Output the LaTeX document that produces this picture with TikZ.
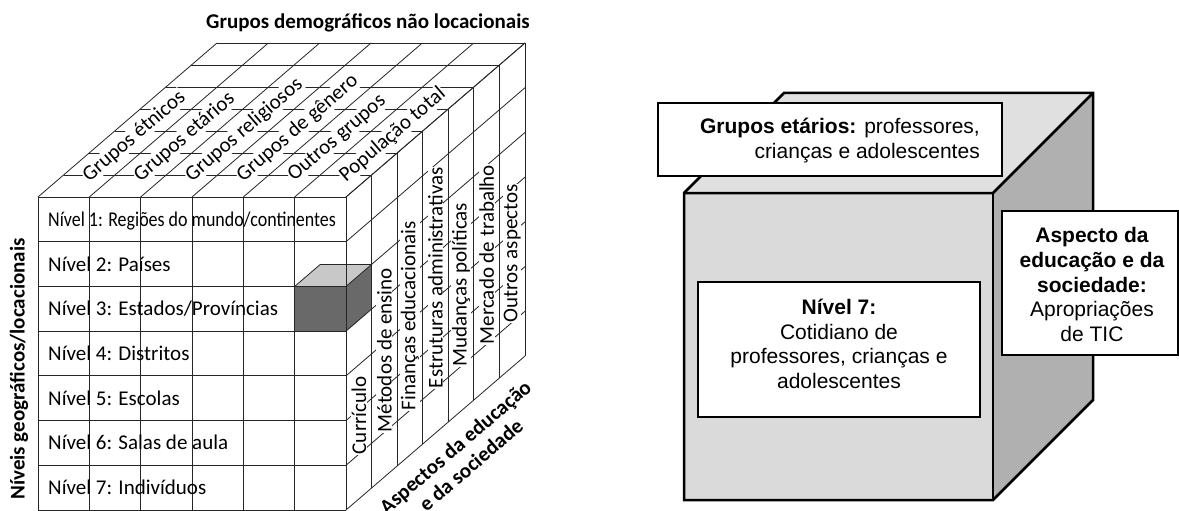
\documentclass[tikz,border=0pt]{standalone}
\usepackage{fontspec}
\usepackage{graphicx}
\setmainfont{Carlito}
\newfontfamily\arialf{Liberation Sans}
\definecolor{darkcell}{HTML}{696969}
\definecolor{lightcell}{HTML}{C8C8C8}
\definecolor{facefront}{HTML}{DADADA}
\definecolor{facetop}{HTML}{E0E0E0}
\definecolor{faceside}{HTML}{B0B0B0}
\def\W{51.333}
\def\H{44.714}
\def\DX{25.571}
\def\DY{22}
\begin{document}
\begin{tikzpicture}[x=1pt,y=-1pt,
  gline/.style={line width=0.8pt, draw=black!85},
  lbl/.style={font=\fontsize{21}{24}\selectfont, inner sep=0pt},
  blbl/.style={font=\fontsize{21}{24}\selectfont\bfseries, inner sep=0pt},
  facelbl/.style={lbl, fill=white, inner sep=0.6pt},
  cubeline/.style={line width=2.5pt, draw=black, line join=miter},
  abox/.style={line width=2.3pt, draw=black, fill=white, inner sep=0pt, outer sep=0pt, anchor=north west},
  atext/.style={font=\arialf\fontsize{21}{24.7}\selectfont, inner sep=0pt}
]
\useasboundingbox (0,0) rectangle (1179,511);
\fill[white] (0,0) rectangle (1179,511);

% ---------- left cube: highlighted cell ----------
\fill[darkcell] (294.67,286.43) rectangle (346,331.14);
\fill[darkcell] (346,286.43) -- (371.57,264.43) -- (371.57,309.14) -- (346,331.14) -- cycle;
\fill[lightcell] (294.67,286.43) -- (346,286.43) -- (371.57,264.43) -- (320.24,264.43) -- cycle;

% ---------- left cube: grid ----------
% front face
\foreach \i in {0,...,6} \draw[gline] ({38+\i*\W},197) -- ({38+\i*\W},510);
\foreach \j in {0,...,7} \draw[gline] (38,{197+\j*\H}) -- (346,{197+\j*\H});
% top face
\foreach \i in {0,...,6} \draw[gline] ({38+\i*\W},197) -- ({38+\i*\W+7*\DX},{197-7*\DY});
\foreach \t in {0,...,7} \draw[gline] ({38+\t*\DX},{197-\t*\DY}) -- ({346+\t*\DX},{197-\t*\DY});
% right face
\foreach \t in {0,...,7} \draw[gline] ({346+\t*\DX},{197-\t*\DY}) -- ({346+\t*\DX},{510-\t*\DY});
\foreach \j in {0,...,7} \draw[gline] (346,{197+\j*\H}) -- ({346+7*\DX},{197+\j*\H-7*\DY});
% highlighted cell outline
\draw[gline] (294.67,286.43) -- (320.24,264.43) -- (371.57,264.43);

% ---------- left cube: labels ----------
\node[blbl] (titulo) at (368,23) {Grupos demográficos não locacionais};
\node[blbl, rotate=90] (eixoniveis) at (19,369) {Níveis geográficos/locacionais};
\node[blbl, rotate=40.7, align=center] (eixoaspectos) at (463,456) {Aspectos da educação\\e da sociedade};

\node[lbl, anchor=base west] (n1) at (48,{197+0.5*\H+7}) {\scalebox{0.855}[1]{Nível 1: Regiões do mundo/continentes}};
\node[lbl, anchor=base west] (n2) at (48,{197+1.5*\H+7}) {Nível 2: Países};
\node[lbl, anchor=base west] (n3) at (48,{197+2.5*\H+7}) {Nível 3: Estados/Províncias};
\node[lbl, anchor=base west] (n4) at (48,{197+3.5*\H+7}) {Nível 4: Distritos};
\node[lbl, anchor=base west] (n5) at (48,{197+4.5*\H+7}) {Nível 5: Escolas};
\node[lbl, anchor=base west] (n6) at (48,{197+5.5*\H+7}) {Nível 6: Salas de aula};
\node[lbl, anchor=base west] (n7) at (48,{197+6.5*\H+7}) {Nível 7: Indivíduos};

\foreach \i/\txt/\nm in {0/Grupos étnicos/g0, 1/Grupos etários/g1, 2/Grupos religiosos/g2,
  3/Grupos de gênero/g3, 4/Outros grupos/g4, 5/População total/g5}
  \node[facelbl, rotate=40.7, anchor=west] (\nm) at ({38+(\i+0.5)*\W+21.5},178.5) {\txt};

\foreach \t/\txt/\nm in {0/Currículo/a0, 1/Métodos de ensino/a1, 2/Finanças educacionais/a2,
  3/Estruturas administrativas/a3, 4/Mudanças políticas/a4, 5/Mercado de trabalho/a5, 6/Outros aspectos/a6}
  \node[facelbl, rotate=90, anchor=west] (\nm) at ({346+(\t+0.5)*\DX},{455-22*\t}) {\txt};

% ---------- right cube ----------
\fill[facetop] (684,193) -- (993,193) -- (1093,93) -- (784,93) -- cycle;
\fill[faceside] (993,193) -- (1093,93) -- (1093,400) -- (993,500) -- cycle;
\fill[facefront] (684,193) rectangle (993,500);
\draw[cubeline] (684,193) -- (784,93) -- (1093,93) -- (1093,400) -- (993,500) -- (684,500) -- cycle;
\draw[cubeline] (684,193) -- (993,193) -- (1093,93);
\draw[cubeline] (993,193) -- (993,500);

\node[abox, minimum width=344, minimum height=73] (boxtop) at (658,103) {};
\node[abox, minimum width=282, minimum height=135] (boxfront) at (698,282) {};
\node[abox, minimum width=176, minimum height=144] (boxside) at (1002,211) {};

\node[atext, align=right, anchor=east] (txttop) at (980,140.5)
  {\textbf{Grupos etários:} professores,\\crianças e adolescentes};
\node[atext, align=center] (txtfront) at (839,344)
  {\textbf{Nível 7:}\\Cotidiano de\\professores, crianças e\\adolescentes};
\node[atext, align=center] (txtside) at (1092,284.5)
  {\textbf{Aspecto da}\\\textbf{educação e da}\\\textbf{sociedade:}\\Apropriações\\de TIC};
\end{tikzpicture}
\end{document}
